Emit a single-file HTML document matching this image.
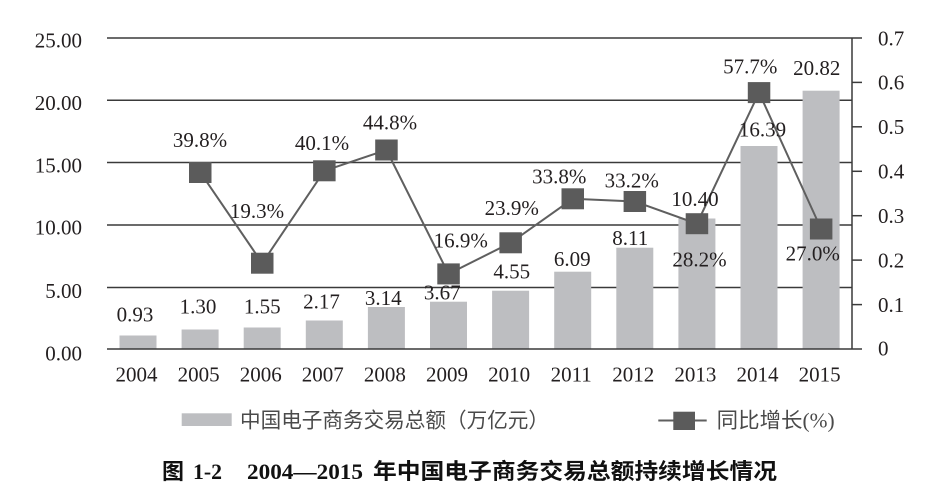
<!DOCTYPE html>
<html><head><meta charset="utf-8"><style>
html,body{margin:0;padding:0;background:#fff;}
svg{display:block;}
.t{font-family:"Liberation Serif","Noto Serif CJK SC",serif;font-size:21px;fill:#231f20;}
</style></head><body>
<svg width="942" height="501" viewBox="0 0 942 501" xmlns="http://www.w3.org/2000/svg">
<rect width="942" height="501" fill="#fff"/>
<!-- gridlines -->
<g stroke="#3a3a3a" stroke-width="1.5">
<line x1="107" y1="38" x2="862" y2="38"/>
<line x1="107" y1="100.3" x2="852" y2="100.3"/>
<line x1="107" y1="162.5" x2="852" y2="162.5"/>
<line x1="107" y1="225" x2="852" y2="225"/>
<line x1="107" y1="287.5" x2="852" y2="287.5"/>
</g>
<!-- bars -->
<g fill="#bdbec1">
<rect x="119.5" y="335.5" width="37" height="13.5"/>
<rect x="181.6" y="329.5" width="37" height="19.5"/>
<rect x="243.7" y="327.5" width="37" height="21.5"/>
<rect x="305.8" y="320.5" width="37" height="28.5"/>
<rect x="367.9" y="307" width="37" height="42"/>
<rect x="430" y="301.7" width="37" height="47.3"/>
<rect x="492.1" y="290.7" width="37" height="58.3"/>
<rect x="554.2" y="271.7" width="37" height="77.3"/>
<rect x="616.3" y="247.7" width="37" height="101.3"/>
<rect x="678.4" y="218.5" width="37" height="130.5"/>
<rect x="740.5" y="146" width="37" height="203"/>
<rect x="802.6" y="90.7" width="37" height="258.3"/>
</g>
<!-- axes -->
<g stroke="#3a3a3a" stroke-width="1.5">
<line x1="107" y1="349" x2="862" y2="349"/>
<line x1="852" y1="38" x2="852" y2="349"/>
<line x1="852" y1="82.4" x2="862" y2="82.4"/>
<line x1="852" y1="126.8" x2="862" y2="126.8"/>
<line x1="852" y1="171.3" x2="862" y2="171.3"/>
<line x1="852" y1="215.7" x2="862" y2="215.7"/>
<line x1="852" y1="260.1" x2="862" y2="260.1"/>
<line x1="852" y1="304.6" x2="862" y2="304.6"/>
</g>
<!-- line -->
<polyline fill="none" stroke="#5f5f5f" stroke-width="2" points="200.15,172.2 262.25,263.2 324.35,170.8 386.45,150 448.55,273.9 510.65,242.8 572.75,198.8 634.85,201.5 696.95,223.7 759.05,92.6 821.15,229"/>
<g fill="#5b5b5b">
<rect x="189" y="162" width="22.5" height="21"/>
<rect x="251" y="252.7" width="22.5" height="21"/>
<rect x="313.1" y="160.3" width="22.5" height="21"/>
<rect x="375.2" y="139.5" width="22.5" height="21"/>
<rect x="437.3" y="263.4" width="22.5" height="21"/>
<rect x="499.4" y="232.3" width="22.5" height="21"/>
<rect x="561.5" y="188.3" width="22.5" height="21"/>
<rect x="623.6" y="191" width="22.5" height="21"/>
<rect x="685.7" y="213.2" width="22.5" height="21"/>
<rect x="747.8" y="82.1" width="22.5" height="21"/>
<rect x="809.9" y="218.5" width="22.5" height="21"/>
</g>
<!-- left tick labels -->
<g class="t" text-anchor="end">
<text x="82" y="47.3">25.00</text>
<text x="82" y="109.8">20.00</text>
<text x="82" y="172.3">15.00</text>
<text x="82" y="234.5">10.00</text>
<text x="82" y="298">5.00</text>
<text x="82" y="360.5">0.00</text>
</g>
<!-- right tick labels -->
<g class="t" text-anchor="start">
<text x="878" y="45.3">0.7</text>
<text x="878" y="89.7">0.6</text>
<text x="878" y="134.1">0.5</text>
<text x="878" y="178.6">0.4</text>
<text x="878" y="223">0.3</text>
<text x="878" y="267.4">0.2</text>
<text x="878" y="311.9">0.1</text>
<text x="878" y="355.5">0</text>
</g>
<!-- year labels -->
<g class="t" text-anchor="middle">
<text x="136.5" y="381.7">2004</text>
<text x="198.6" y="381.7">2005</text>
<text x="260.7" y="381.7">2006</text>
<text x="322.8" y="381.7">2007</text>
<text x="384.9" y="381.7">2008</text>
<text x="447" y="381.7">2009</text>
<text x="509.1" y="381.7">2010</text>
<text x="571.2" y="381.7">2011</text>
<text x="633.3" y="381.7">2012</text>
<text x="695.4" y="381.7">2013</text>
<text x="757.5" y="381.7">2014</text>
<text x="819.6" y="381.7">2015</text>
</g>
<!-- bar value labels -->
<g class="t" text-anchor="middle">
<text x="135" y="321.7">0.93</text>
<text x="198" y="313.3">1.30</text>
<text x="262.3" y="313.3">1.55</text>
<text x="321.5" y="308.3">2.17</text>
<text x="383.3" y="305">3.14</text>
<text x="442.3" y="299.3">3.67</text>
<text x="511.7" y="278.3">4.55</text>
<text x="572.3" y="266">6.09</text>
<text x="630.3" y="245">8.11</text>
<text x="695" y="206">10.40</text>
<text x="762.5" y="136.7">16.39</text>
<text x="816.7" y="75">20.82</text>
</g>
<!-- line value labels -->
<g class="t" text-anchor="middle">
<text x="200" y="147">39.8%</text>
<text x="257" y="218">19.3%</text>
<text x="322" y="150">40.1%</text>
<text x="390" y="129.3">44.8%</text>
<text x="460.8" y="247.3">16.9%</text>
<text x="511.7" y="215">23.9%</text>
<text x="559.3" y="183.3">33.8%</text>
<text x="631.7" y="187.3">33.2%</text>
<text x="699.5" y="266.7">28.2%</text>
<text x="750.3" y="73.3">57.7%</text>
<text x="812.8" y="260.7">27.0%</text>
</g>
<!-- legend -->
<rect x="181.7" y="413.3" width="50" height="12.7" fill="#bdbec1"/>
<text x="240" y="427.5" font-family="'Liberation Sans','Noto Sans CJK SC',sans-serif" font-size="21" fill="#4a4a4a" textLength="309" lengthAdjust="spacingAndGlyphs">中国电子商务交易总额（万亿元）</text>
<line x1="658.3" y1="420.5" x2="706.7" y2="420.5" stroke="#5f5f5f" stroke-width="2"/>
<rect x="673.3" y="411.7" width="21.7" height="18.3" fill="#5b5b5b"/>
<text x="716.7" y="427.5" font-family="'Liberation Serif','Noto Sans CJK SC',serif" font-size="21" fill="#4a4a4a" textLength="118" lengthAdjust="spacingAndGlyphs">同比增长(%)</text>
<!-- title -->
<g font-weight="bold" fill="#111" font-size="22">
<text x="162" y="479" font-family="'Liberation Sans','Noto Sans CJK SC',sans-serif">图</text>
<text x="193" y="479" font-family="'Liberation Serif',serif" textLength="29" lengthAdjust="spacingAndGlyphs">1-2</text>
<text x="247" y="479" font-family="'Liberation Serif',serif" textLength="116" lengthAdjust="spacingAndGlyphs">2004—2015</text>
<text x="373" y="479" font-family="'Liberation Sans','Noto Sans CJK SC',sans-serif" textLength="404" lengthAdjust="spacingAndGlyphs">年中国电子商务交易总额持续增长情况</text>
</g>
</svg>
</body></html>
